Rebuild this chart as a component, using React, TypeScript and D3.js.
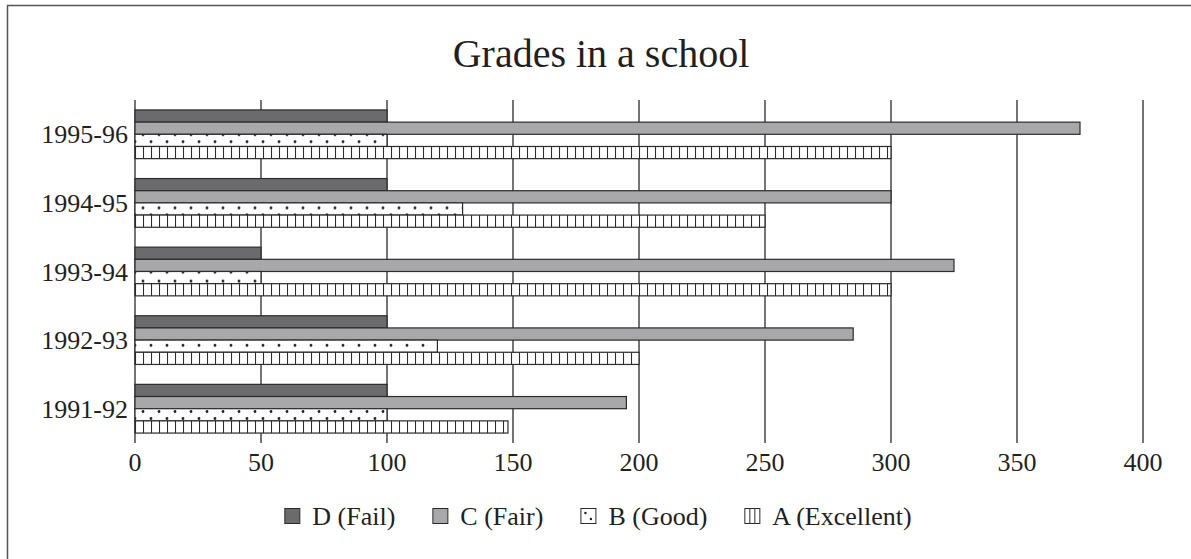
import { useEffect, useRef } from "react";
import * as d3 from "d3";

// chart data
const years = ["1995-96", "1994-95", "1993-94", "1992-93", "1991-92"];
const gradeKeys = ["D", "C", "B", "A"];
const gradeLabels = ["D (Fail)", "C (Fair)", "B (Good)", "A (Excellent)"];
const failCounts = [100, 100, 50, 100, 100];
const fairCounts = [375, 300, 325, 285, 195];
const goodCounts = [100, 130, 50, 120, 100];
const excellentCounts = [300, 250, 300, 200, 148];
const xTicks = [0, 50, 100, 150, 200, 250, 300, 350, 400];
const chartTitle = "Grades in a school";

const FONT = "'Liberation Serif', 'Times New Roman', serif";
const INK = "#231f20";
const EDGE = "#2b2b2b";

export default function App() {
  const svgRef = useRef<SVGSVGElement | null>(null);

  useEffect(() => {
    if (!svgRef.current) return;

    const width = 1191;
    const height = 559;
    const plot = { left: 135, right: 1143, top: 100, bottom: 443 };

    const svg = d3
      .select(svgRef.current)
      .attr("width", width)
      .attr("height", height)
      .attr("viewBox", `0 0 ${width} ${height}`);

    svg.selectAll("*").remove();

    const seriesValues = [failCounts, fairCounts, goodCounts, excellentCounts];

    const x = d3.scaleLinear().domain([0, 400]).range([plot.left, plot.right]);
    const y = d3
      .scaleBand<string>()
      .domain(years)
      .range([plot.top, plot.bottom])
      .paddingInner(0.29)
      .paddingOuter(0.145);
    const yInner = d3
      .scaleBand<string>()
      .domain(gradeKeys)
      .range([0, y.bandwidth()]);

    // fills for each grade
    const defs = svg.append("defs");

    defs
      .append("pattern")
      .attr("id", "pat-lines")
      .attr("patternUnits", "userSpaceOnUse")
      .attr("x", x(0))
      .attr("y", 0)
      .attr("width", 8)
      .attr("height", 20)
      .call((p) => {
        p.append("rect").attr("width", 8).attr("height", 20).attr("fill", "#fff");
        p.append("line")
          .attr("x1", 0.5)
          .attr("x2", 0.5)
          .attr("y1", 0)
          .attr("y2", 20)
          .attr("stroke", EDGE)
          .attr("stroke-width", 1.1);
      });

    years.forEach((yr, i) => {
      const by = (y(yr) ?? 0) + (yInner("B") ?? 0);
      defs
        .append("pattern")
        .attr("id", `pat-dots-${i}`)
        .attr("patternUnits", "userSpaceOnUse")
        .attr("x", x(0))
        .attr("y", by)
        .attr("width", 16)
        .attr("height", 16)
        .call((p) => {
          p.append("rect").attr("width", 16).attr("height", 16).attr("fill", "#fff");
          p.append("circle").attr("cx", 8).attr("cy", 2.5).attr("r", 1.4).attr("fill", INK);
          p.append("circle").attr("cx", 16).attr("cy", 9.5).attr("r", 1.4).attr("fill", INK);
          p.append("circle").attr("cx", 0).attr("cy", 9.5).attr("r", 1.4).attr("fill", INK);
        });
    });

    const fillFor = (key: string, i: number) => {
      if (key === "D") return "#6b6b6e";
      if (key === "C") return "#a8a8aa";
      if (key === "B") return `url(#pat-dots-${i})`;
      return "url(#pat-lines)";
    };

    // outer frame
    svg
      .append("rect")
      .attr("x", 7.5)
      .attr("y", 5.5)
      .attr("width", 1200)
      .attr("height", 600)
      .attr("fill", "none")
      .attr("stroke", "#555")
      .attr("stroke-width", 1.5);

    // title
    svg
      .append("text")
      .attr("x", 601)
      .attr("y", 67)
      .attr("text-anchor", "middle")
      .attr("font-family", FONT)
      .attr("font-size", 40)
      .attr("fill", INK)
      .text(chartTitle);

    // vertical grid lines + left axis
    svg
      .append("g")
      .selectAll("line")
      .data(xTicks)
      .join("line")
      .attr("x1", (d) => x(d))
      .attr("x2", (d) => x(d))
      .attr("y1", plot.top)
      .attr("y2", plot.bottom)
      .attr("stroke", "#3a3a3a")
      .attr("stroke-width", 1.4);

    // bars
    const groups = svg
      .append("g")
      .selectAll("g")
      .data(years)
      .join("g")
      .attr("transform", (d) => `translate(0,${y(d)})`);

    groups
      .selectAll("rect")
      .data((_, i) =>
        gradeKeys.map((key, k) => ({ key, value: seriesValues[k][i], row: i }))
      )
      .join("rect")
      .attr("x", x(0))
      .attr("y", (d) => yInner(d.key) ?? 0)
      .attr("width", (d) => x(d.value) - x(0))
      .attr("height", yInner.bandwidth())
      .attr("fill", (d) => fillFor(d.key, d.row))
      .attr("stroke", EDGE)
      .attr("stroke-width", 1.2);

    // x tick labels
    svg
      .append("g")
      .selectAll("text")
      .data(xTicks)
      .join("text")
      .attr("x", (d) => x(d))
      .attr("y", 471)
      .attr("text-anchor", "middle")
      .attr("font-family", FONT)
      .attr("font-size", 26)
      .attr("fill", INK)
      .text((d) => d);

    // category labels
    svg
      .append("g")
      .selectAll("text")
      .data(years)
      .join("text")
      .attr("x", plot.left - 7)
      .attr("y", (d) => (y(d) ?? 0) + y.bandwidth() / 2 + 9)
      .attr("text-anchor", "end")
      .attr("font-family", FONT)
      .attr("font-size", 26)
      .attr("fill", INK)
      .text((d) => d);

    // legend, laid out from measured text widths
    const sw = 15;
    const gapIcon = 13;
    const gapItem = 37;
    const legend = svg.append("g");
    const items = gradeKeys.map((key, k) => {
      const g = legend.append("g");
      const t = g
        .append("text")
        .attr("x", sw + gapIcon)
        .attr("y", 17)
        .attr("font-family", FONT)
        .attr("font-size", 26)
        .attr("fill", INK)
        .text(gradeLabels[k]);
      const tw = (t.node() as SVGTextElement).getComputedTextLength();
      const icon = g
        .append("rect")
        .attr("x", 0.5)
        .attr("y", 0.5)
        .attr("width", sw)
        .attr("height", sw)
        .attr("stroke", EDGE)
        .attr("stroke-width", 1)
        .attr("fill", key === "D" ? "#6b6b6e" : key === "C" ? "#a8a8aa" : "#fff");
      if (key === "B") {
        g.append("circle").attr("cx", 5).attr("cy", 5).attr("r", 1.2).attr("fill", INK);
        g.append("circle").attr("cx", 10.5).attr("cy", 11).attr("r", 1.2).attr("fill", INK);
      }
      if (key === "A") {
        [1, 2].forEach((j) =>
          g
            .append("line")
            .attr("x1", 0.5 + (sw * j) / 3)
            .attr("x2", 0.5 + (sw * j) / 3)
            .attr("y1", 0.5)
            .attr("y2", sw + 0.5)
            .attr("stroke", EDGE)
            .attr("stroke-width", 1)
        );
      }
      icon.lower();
      return { g, w: sw + gapIcon + tw };
    });
    const total = d3.sum(items, (d) => d.w) + gapItem * (items.length - 1);
    let cx = 598 - total / 2;
    items.forEach((it) => {
      it.g.attr("transform", `translate(${cx},508)`);
      cx += it.w + gapItem;
    });
  }, []);

  return (
    <div style={{ position: "absolute", left: 0, top: 0, background: "#fff" }}>
      <svg ref={svgRef} style={{ display: "block" }}></svg>
    </div>
  );
}
